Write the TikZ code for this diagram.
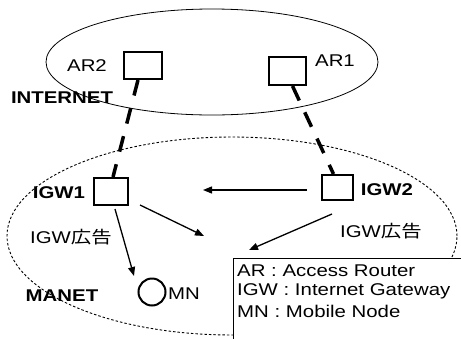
\documentclass[tikz,border=0pt]{standalone}
\usepackage{fontspec}
\setmainfont{Liberation Sans}
\newfontfamily\cjk{Noto Sans CJK JP}
\usetikzlibrary{arrows.meta,calc,shapes.geometric}
\newcommand{\sx}[1]{\scalebox{1.2}[1]{#1}}
\tikzset{
  lbl/.style={font=\fontsize{17}{20}\selectfont, inner sep=0pt},
  blbl/.style={font=\fontsize{17}{20}\selectfont\bfseries, inner sep=0pt},
  router/.style={draw, line width=2pt, fill=white, inner sep=0pt},
  link/.style={line width=3.5pt, dash pattern=on 16pt off 13pt},
  adv/.style={line width=1.3pt, -{Triangle[length=9pt,width=7pt]}},
}
\begin{document}
\begin{tikzpicture}[x=1pt,y=-1pt]
\useasboundingbox[fill=white] (0,0) rectangle (461,338);
% networks
\node[ellipse, draw, line width=0.8pt, minimum width=332pt, minimum height=106pt, inner sep=0pt] (inet) at (212,62) {};
\node[ellipse, draw, line width=0.9pt, dash pattern=on 2.5pt off 2pt, minimum width=450pt, minimum height=198pt, inner sep=0pt] (manet) at (232,236) {};
% routers / gateways
\node[router, minimum width=38pt, minimum height=27pt] (ar2) at (143,65.5) {};
\node[router, minimum width=37pt, minimum height=28pt] (ar1) at (287.5,71) {};
\node[router, minimum width=34pt, minimum height=27pt] (igw1) at (111,191.5) {};
\node[router, minimum width=31pt, minimum height=25pt] (igw2) at (337.5,187.5) {};
\node[draw, circle, line width=2pt, minimum size=27pt, inner sep=0pt] (mn) at (152,292) {};
% wired links
\draw[link] ($(ar2.south)+(-5,0)$) -- ($(igw1.north)+(2,0)$);
\draw[link] ($(ar1.south)+(5,0)$) -- ($(igw2.north)+(-4,0)$);
% advertisement arrows
\coordinate (a1s) at (307,190); \coordinate (a1e) at (203,190);
\coordinate (a2s) at (140,205); \coordinate (a2e) at (204,236);
\coordinate (a3s) at (115,209); \coordinate (a3e) at (134,276);
\coordinate (a4s) at (332,214); \coordinate (a4e) at (249,250);
\draw[adv] (a1s) -- (a1e);
\draw[adv] (a2s) -- (a2e);
\draw[adv] (a3s) -- (a3e);
\draw[adv] (a4s) -- (a4e);
% labels
\node[lbl] (tar2) at (87,66) {\sx{AR2}};
\node[lbl] (tar1) at (335,61) {\sx{AR1}};
\node[blbl] (tinet) at (62,98) {\sx{INTERNET}};
\node[blbl] (tigw1) at (59,193) {\sx{IGW1}};
\node[blbl] (tigw2) at (387,190) {\sx{IGW2}};
\node[lbl] (tadv1) at (71,237) {\sx{IGW{\cjk 広告}}};
\node[lbl] (tadv2) at (381,231) {\sx{IGW{\cjk 広告}}};
\node[blbl] (tmanet) at (62,296) {\sx{MANET}};
\node[lbl, anchor=west] (tmn) at (168,294) {\sx{MN}};
% legend
\node[draw, fill=white, line width=1pt, anchor=north west, minimum width=240pt, minimum height=90pt, inner sep=0pt] (legend) at (233,258) {};
\node[lbl, anchor=west] (l1) at (237,271) {\sx{AR : Access Router}};
\node[lbl, anchor=west] (l2) at (237,291) {\sx{IGW : Internet Gateway}};
\node[lbl, anchor=west] (l3) at (237,311) {\sx{MN : Mobile Node}};
\end{tikzpicture}
\end{document}
